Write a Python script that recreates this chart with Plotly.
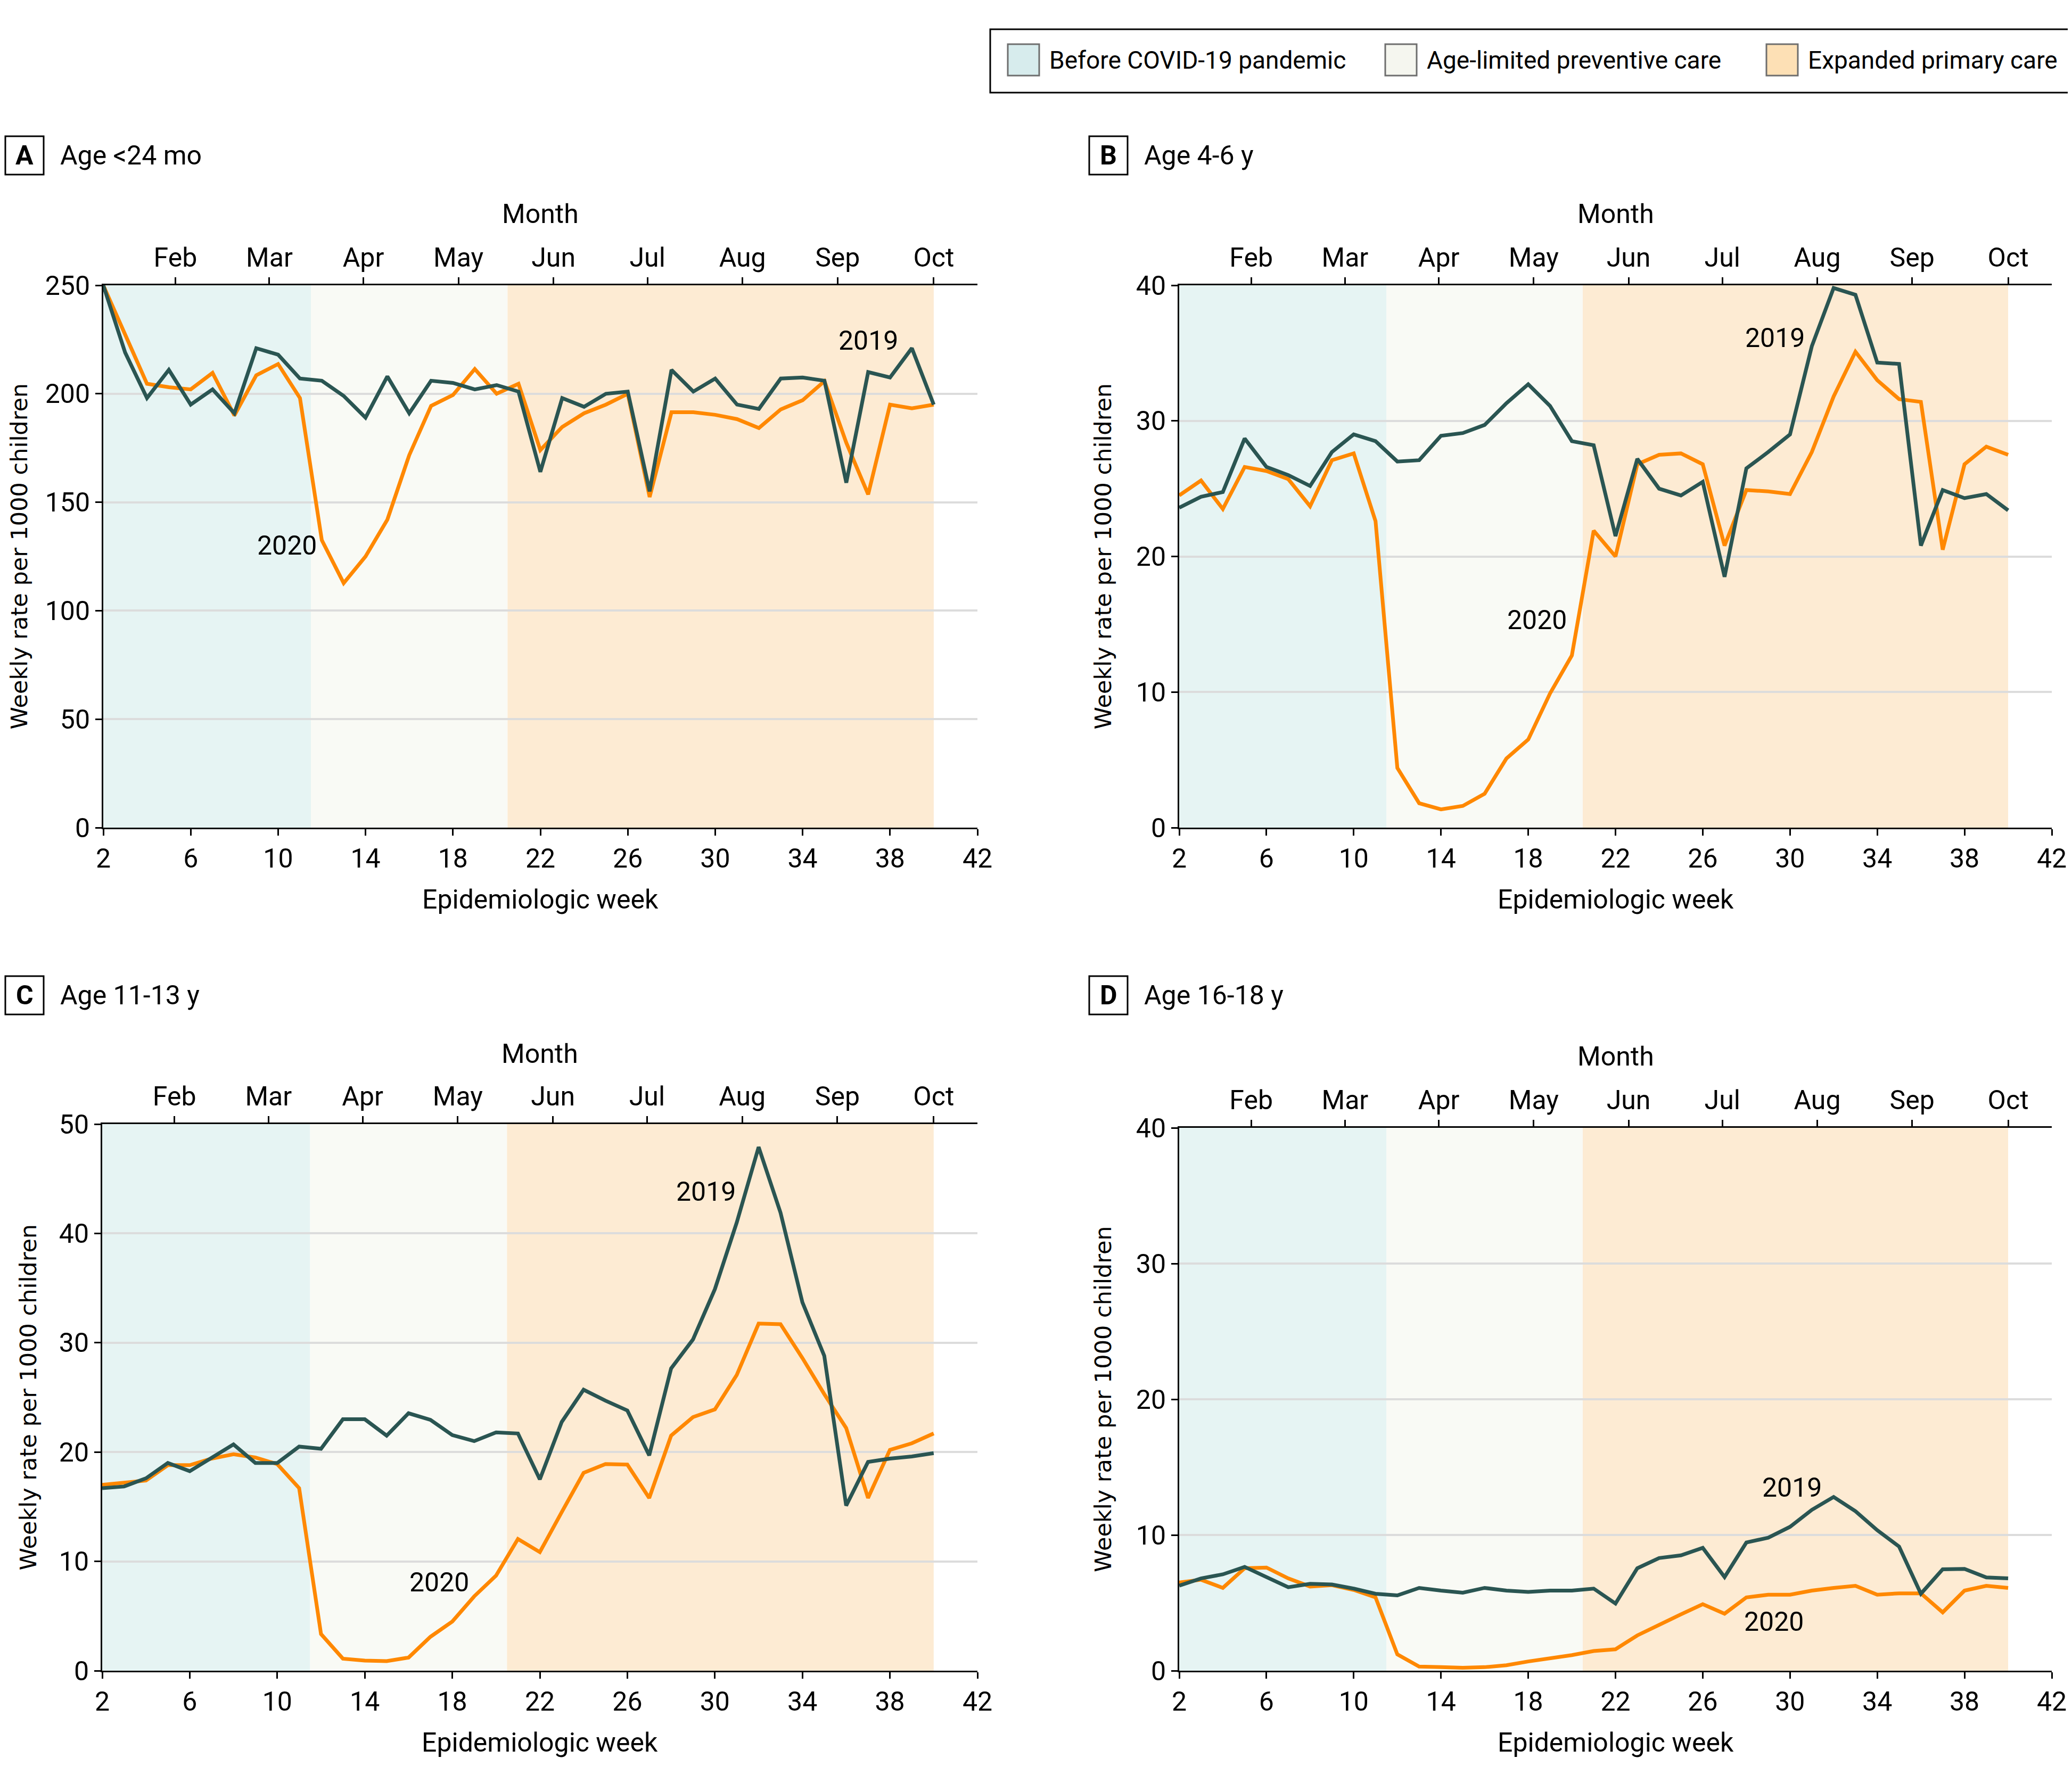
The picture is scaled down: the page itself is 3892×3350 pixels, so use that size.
import plotly.graph_objects as go

# Epidemiologic weeks shown in every panel
weeks = list(range(2, 41))
week_ticks = list(range(2, 43, 4))

# Month ticks on the top axis (position in epidemiologic weeks)
month_names = ["Feb", "Mar", "Apr", "May", "Jun", "Jul", "Aug", "Sep", "Oct"]
month_weeks = [5.3, 9.6, 13.9, 18.25, 22.6, 26.9, 31.25, 35.6, 40.0]

# Shaded periods
phase_names = ["Before COVID-19 pandemic", "Age-limited preventive care", "Expanded primary care"]
phase_start = [2, 11.5, 20.5]
phase_end = [11.5, 20.5, 40]

# Panels
panel_letters = ["A", "B", "C", "D"]
panel_titles = ["Age <24 mo", "Age 4-6 y", "Age 11-13 y", "Age 16-18 y"]
y_max = [250, 40, 50, 40]
y_step = [50, 10, 10, 10]

# Weekly rate per 1000 children, weeks 2-40
rate_2019_a = [250, 219, 198, 211, 195, 202, 191, 221, 218, 207, 206, 199, 189, 208, 191, 206,
               205, 202, 204, 201, 164, 198, 194, 200, 201, 155, 211, 201, 207, 195, 193, 207,
               207.5, 206, 159, 210, 207.5, 221, 195]
rate_2020_a = [250, 227, 204.6, 203, 202, 209.6, 190, 208.5, 213.7, 198, 132.5, 112.7, 125, 142,
               171.7, 194.4, 199.4, 211.4, 200, 204.6, 174, 184.7, 191, 195, 200, 152.4, 191.5,
               191.5, 190.3, 188.3, 184.2, 192.8, 197, 205.8, 177.4, 153.6, 195, 193.3, 195]

rate_2019_b = [23.6, 24.4, 24.75, 28.7, 26.6, 26.0, 25.2, 27.7, 29.0, 28.5, 27.0, 27.1, 28.9,
               29.1, 29.7, 31.3, 32.7, 31.1, 28.5, 28.2, 21.5, 27.2, 25.0, 24.5, 25.5, 18.5,
               26.5, 27.7, 29.0, 35.5, 39.8, 39.3, 34.3, 34.2, 20.8, 24.9, 24.3, 24.6, 23.4]
rate_2020_b = [24.5, 25.6, 23.5, 26.6, 26.3, 25.7, 23.7, 27.1, 27.6, 22.6, 4.4, 1.8, 1.35, 1.6,
               2.5, 5.1, 6.5, 9.9, 12.7, 21.9, 20.0, 26.8, 27.5, 27.6, 26.8, 20.8, 24.9, 24.8,
               24.6, 27.7, 31.8, 35.1, 33.0, 31.6, 31.4, 20.5, 26.8, 28.1, 27.5]

rate_2019_c = [16.7, 16.85, 17.6, 19.0, 18.25, 19.5, 20.7, 19.0, 19.0, 20.5, 20.3, 23.0, 23.0,
               21.5, 23.55, 22.95, 21.55, 21.0, 21.8, 21.7, 17.5, 22.75, 25.7, 24.7, 23.8, 19.7,
               27.65, 30.3, 34.9, 41.0, 47.9, 41.9, 33.7, 28.8, 15.1, 19.1, 19.4, 19.6, 19.9]
rate_2020_c = [17.0, 17.2, 17.4, 18.8, 18.8, 19.4, 19.8, 19.5, 18.9, 16.7, 3.35, 1.1, 0.93, 0.88,
               1.2, 3.1, 4.5, 6.8, 8.7, 12.05, 10.85, 14.5, 18.1, 18.9, 18.85, 15.8, 21.5, 23.2,
               23.9, 27.05, 31.75, 31.7, 28.6, 25.3, 22.2, 15.8, 20.2, 20.8, 21.7]

rate_2019_d = [6.27, 6.8, 7.1, 7.65, 6.9, 6.15, 6.4, 6.35, 6.05, 5.67, 5.55, 6.1, 5.9, 5.75, 6.1,
               5.9, 5.8, 5.9, 5.9, 6.05, 4.95, 7.55, 8.3, 8.5, 9.05, 6.9, 9.45, 9.8, 10.6, 11.85,
               12.8, 11.75, 10.35, 9.15, 5.67, 7.47, 7.5, 6.87, 6.8]
rate_2020_d = [6.5, 6.7, 6.1, 7.55, 7.6, 6.8, 6.2, 6.3, 5.95, 5.4, 1.2, 0.3, 0.26, 0.22, 0.26,
               0.4, 0.68, 0.9, 1.15, 1.45, 1.58, 2.6, 3.4, 4.15, 4.9, 4.2, 5.4, 5.6, 5.6, 5.9,
               6.1, 6.25, 5.6, 5.7, 5.7, 4.3, 5.9, 6.25, 6.1]

rates_2019 = [rate_2019_a, rate_2019_b, rate_2019_c, rate_2019_d]
rates_2020 = [rate_2020_a, rate_2020_b, rate_2020_c, rate_2020_d]

# Where the year labels sit (week, rate)
label_2019 = [(37.0, 224.6), (29.3, 36.1), (29.6, 43.8), (30.1, 13.5)]
label_2020 = [(10.4, 130), (18.4, 15.3), (17.4, 8.1), (29.25, 3.6)]

# ---- styling -----------------------------------------------------------
W, H = 3892, 3350
OFF = 8  # the page body adds an 8 px margin
COND = "Roboto, Liberation Sans, sans-serif"
WIDE = "DejaVu Sans, Verdana, sans-serif"
FS = 50
DARK = "#2a5552"
ORANGE = "#ff8800"
band_colors = ["#e6f4f3", "#f9faf5", "#fdebd3"]
swatch_colors = ["#d7eced", "#f5f6ef", "#fde0b5"]


def px(x):
    return (x - OFF) / W


def py(y):
    return 1 - (y - OFF) / H


# plot areas in pixels: (left, right, top, bottom)
boxes = [(194, 1836, 536, 1555), (2215, 3854, 536, 1555),
         (192, 1836, 2112, 3139), (2215, 3854, 2119, 3139)]
title_row_y = [292, 292, 1870, 1870]
month_title_y = [402, 402, 1980, 1985]
week_title_y = [1690, 1690, 3274, 3274]
ytitle_x = [36, 2072, 52, 2072]

fig = go.Figure()
shapes = []
annotations = []

for i in range(4):
    n = i + 1
    sx = "" if n == 1 else str(n)
    left, right, top, bottom = boxes[i]

    fig.add_trace(go.Scatter(x=weeks, y=rates_2020[i], mode="lines",
                             line=dict(color=ORANGE, width=7), showlegend=False,
                             xaxis="x" + sx, yaxis="y" + sx))
    fig.add_trace(go.Scatter(x=weeks, y=rates_2019[i], mode="lines",
                             line=dict(color=DARK, width=7), showlegend=False,
                             xaxis="x" + sx, yaxis="y" + sx))
    # empty trace so the month axis gets drawn
    fig.add_trace(go.Scatter(x=month_weeks, y=[None] * len(month_weeks), mode="lines",
                             showlegend=False, hoverinfo="skip",
                             xaxis="x" + str(n + 4), yaxis="y" + sx))

    dom_x = [px(left), px(right)]
    dom_y = [py(bottom), py(top)]
    tick_font = dict(family=COND, size=FS, color="black")

    fig.update_layout({
        "xaxis" + sx: dict(domain=dom_x, range=[2, 42], anchor="y" + sx, automargin=False,
                           tickvals=week_ticks, ticks="outside", ticklen=12, tickwidth=3,
                           tickcolor="black", showline=True, linecolor="black", linewidth=3,
                           showgrid=False, zeroline=False, tickfont=tick_font),
        "yaxis" + sx: dict(domain=dom_y, range=[0, y_max[i]], anchor="x" + sx,
                           automargin=False,
                           tickvals=list(range(0, y_max[i] + 1, y_step[i])),
                           ticks="outside", ticklen=12, tickwidth=3, tickcolor="black",
                           showline=True, linecolor="black", linewidth=3,
                           showgrid=True, gridcolor="#dcdcdc", gridwidth=4,
                           zeroline=False, tickfont=tick_font),
        "xaxis" + str(n + 4): dict(overlaying="x" + sx, anchor="y" + sx, side="top",
                                   automargin=False,
                                   range=[2, 42], tickvals=month_weeks, ticktext=month_names,
                                   ticks="outside", ticklen=12, tickwidth=3,
                                   tickcolor="black", showline=True, linecolor="black",
                                   linewidth=3, showgrid=False, zeroline=False,
                                   tickfont=tick_font),
    })

    # shaded periods
    for k in range(3):
        shapes.append(dict(type="rect", xref="x" + sx, yref="y" + sx + " domain",
                           x0=phase_start[k], x1=phase_end[k], y0=0, y1=1,
                           fillcolor=band_colors[k], line=dict(width=0), layer="below"))

    # panel letter box and title
    ty = title_row_y[i]
    bx = 10 if i % 2 == 0 else 2046
    shapes.append(dict(type="rect", xref="paper", yref="paper",
                       x0=px(bx), x1=px(bx + 72), y0=py(ty + 36), y1=py(ty - 36),
                       line=dict(color="black", width=3), fillcolor="white"))
    annotations.append(dict(text="<b>" + panel_letters[i] + "</b>", xref="paper", yref="paper",
                            x=px(bx + 36), y=py(ty), xanchor="center", yanchor="middle",
                            showarrow=False, font=dict(family=COND, size=FS, color="black")))
    annotations.append(dict(text=panel_titles[i], xref="paper", yref="paper",
                            x=px(bx + 101), y=py(ty), xanchor="left", yanchor="middle",
                            showarrow=False, font=dict(family=COND, size=FS, color="black")))

    # axis titles
    cx = px((left + right) / 2)
    annotations.append(dict(text="Month", xref="paper", yref="paper", x=cx,
                            y=py(month_title_y[i]), xanchor="center", yanchor="middle",
                            showarrow=False, font=dict(family=COND, size=FS, color="black")))
    annotations.append(dict(text="Epidemiologic week", xref="paper", yref="paper", x=cx,
                            y=py(week_title_y[i]), xanchor="center", yanchor="middle",
                            showarrow=False, font=dict(family=COND, size=FS, color="black")))
    annotations.append(dict(text="Weekly rate per 1000 children", xref="paper", yref="paper",
                            x=px(ytitle_x[i]), y=py((top + bottom) / 2), textangle=-90,
                            xanchor="center", yanchor="middle", showarrow=False,
                            font=dict(family=WIDE, size=43, color="black")))

    # year labels
    for (lx, ly), txt in [(label_2019[i], "2019"), (label_2020[i], "2020")]:
        annotations.append(dict(text=txt, xref="x" + sx, yref="y" + sx, x=lx, y=ly,
                                xanchor="center", yanchor="middle", showarrow=False,
                                font=dict(family=COND, size=FS, color="black")))

# legend box
shapes.append(dict(type="rect", xref="paper", yref="paper", x0=px(1860), x1=px(3886),
                   y0=py(174), y1=py(55), line=dict(color="black", width=3),
                   fillcolor="white"))
swatch_x = [1893, 2602, 3318]
for k in range(3):
    shapes.append(dict(type="rect", xref="paper", yref="paper",
                       x0=px(swatch_x[k]), x1=px(swatch_x[k] + 59), y0=py(142), y1=py(83),
                       fillcolor=swatch_colors[k], line=dict(color="#6e6e6e", width=3)))
    annotations.append(dict(text=phase_names[k], xref="paper", yref="paper",
                            x=px(swatch_x[k] + 76), y=py(113), xanchor="left",
                            yanchor="middle", showarrow=False,
                            font=dict(family=COND, size=46, color="black")))

fig.update_layout(
    width=W, height=H,
    margin=dict(l=0, r=0, t=0, b=0, autoexpand=False),
    paper_bgcolor="white",
    plot_bgcolor="rgba(0,0,0,0)",
    showlegend=False,
    shapes=shapes,
    annotations=annotations,
    font=dict(family=COND, size=FS, color="black"),
)

fig.write_html("out.html")
